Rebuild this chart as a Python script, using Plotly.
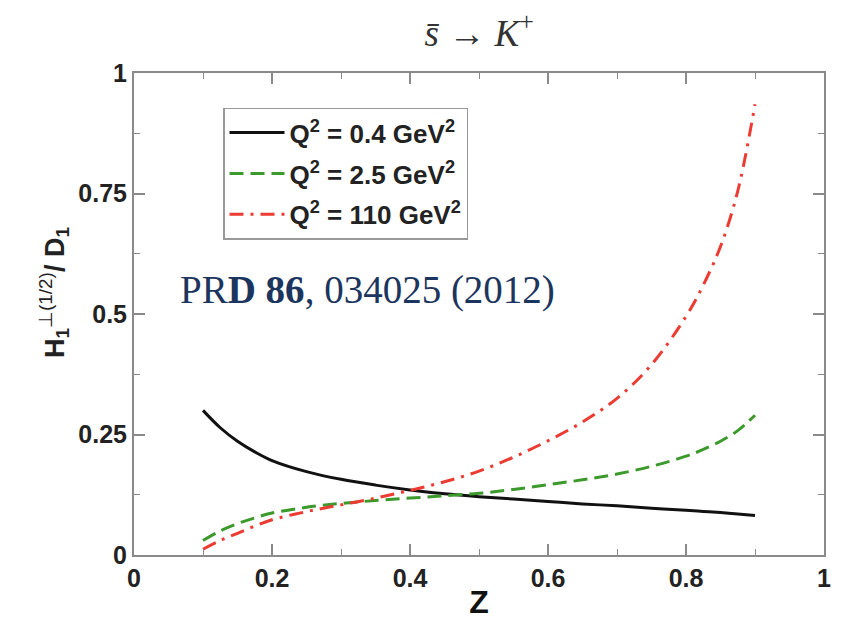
import plotly.graph_objects as go

z = [0.10, 0.125, 0.15, 0.175, 0.20, 0.25, 0.30, 0.35, 0.40, 0.45, 0.50, 0.55, 0.60, 0.65, 0.70, 0.75, 0.80, 0.825, 0.85, 0.875, 0.90]
h_q04 = [0.300, 0.264, 0.236, 0.214, 0.196, 0.173, 0.157, 0.145, 0.135, 0.127, 0.121, 0.116, 0.111, 0.106, 0.102, 0.097, 0.093, 0.0905, 0.088, 0.085, 0.082]
h_q25 = [0.030, 0.050, 0.065, 0.077, 0.087, 0.099, 0.107, 0.113, 0.118, 0.123, 0.128, 0.136, 0.146, 0.156, 0.168, 0.184, 0.205, 0.219, 0.236, 0.258, 0.290]
h_q110 = [0.012, 0.030, 0.045, 0.060, 0.073, 0.090, 0.104, 0.118, 0.134, 0.152, 0.174, 0.203, 0.237, 0.276, 0.325, 0.395, 0.495, 0.560, 0.640, 0.755, 0.935]

x_ticks = [0, 0.2, 0.4, 0.6, 0.8, 1]
x_labels = ["0", "0.2", "0.4", "0.6", "0.8", "1"]
y_ticks = [0, 0.25, 0.5, 0.75, 1]
y_labels = ["0", "0.25", "0.5", "0.75", "1"]

names = ["<b>Q<sup>2</sup> = 0.4 GeV<sup>2</sup></b>",
         "<b>Q<sup>2</sup> = 2.5 GeV<sup>2</sup></b>",
         "<b>Q<sup>2</sup> = 110 GeV<sup>2</sup></b>"]

fig = go.Figure()
fig.add_trace(go.Scatter(x=z, y=h_q04, mode="lines", name=names[0], legendgroup="a",
                         line=dict(color="#111111", width=3, shape="spline")))
fig.add_trace(go.Scatter(x=z, y=h_q25, mode="lines", name=names[1], legendgroup="b",
                         line=dict(color="#3c9a2c", width=3, dash="14px,7px", shape="spline")))
fig.add_trace(go.Scatter(x=z, y=h_q110, mode="lines", name=names[2], legendgroup="c",
                         line=dict(color="#ec3b32", width=3, dash="14px,7px,3px,7px", shape="spline")))

tick_font = dict(family="Liberation Sans", size=25, color="#222", weight="bold")

fig.update_layout(
    xaxis=dict(range=[0, 1], tickmode="array", tickvals=x_ticks, ticktext=x_labels,
               tickfont=tick_font,
               showgrid=False, zeroline=False, showline=True, linecolor="#8a8a8a", linewidth=2,
               mirror="ticks", ticks="inside", tickcolor="#8a8a8a", tickwidth=2, ticklen=11,
               minor=dict(dtick=0.1, tick0=0, ticks="inside", ticklen=6, tickcolor="#8a8a8a", tickwidth=1),
               title=dict(text="<b>Z</b>", font=dict(family="Liberation Sans", size=32, color="#111"), standoff=0)),
    yaxis=dict(range=[0, 1], tickmode="array", tickvals=y_ticks, ticktext=y_labels,
               tickfont=tick_font,
               showgrid=False, zeroline=False, showline=True, linecolor="#8a8a8a", linewidth=2,
               mirror="ticks", ticks="inside", tickcolor="#8a8a8a", tickwidth=2, ticklen=11,
               minor=dict(dtick=0.125, tick0=0, ticks="inside", ticklen=6, tickcolor="#8a8a8a", tickwidth=1)),
    width=861, height=626,
    margin=dict(l=134, r=37, t=73, b=66),
    paper_bgcolor="white", plot_bgcolor="white",
    title=dict(text="<i>s̄</i> → <i>K</i><sup>+</sup>", x=0.5565, xanchor="center", y=0.948, yanchor="middle",
               font=dict(family="Liberation Serif", size=37, color="#333")),
    showlegend=True,
    legend=dict(x=0.129, y=0.928, xanchor="left", yanchor="top",
                bordercolor="#999", borderwidth=1.5, bgcolor="white",
                font=dict(family="Liberation Sans", size=26, color="#222"),
                itemwidth=55, tracegroupgap=4),
)
fig.add_annotation(x=-0.115, y=0.545, xref="paper", yref="paper", xanchor="center", yanchor="middle",
                   textangle=-90, showarrow=False,
                   text="<b>H<sub>1</sub></b><sup>⊥(1/2)</sup><b>/ D<sub>1</sub></b>",
                   font=dict(family="Liberation Sans", size=27, color="#222"))
fig.add_annotation(x=0.338, y=0.55, xref="paper", yref="paper", xanchor="center", yanchor="middle",
                   text="PR<b>D 86</b>, 034025 (2012)", showarrow=False,
                   font=dict(family="Liberation Serif", size=39, color="#1c355e"))
fig.write_html("out.html")
